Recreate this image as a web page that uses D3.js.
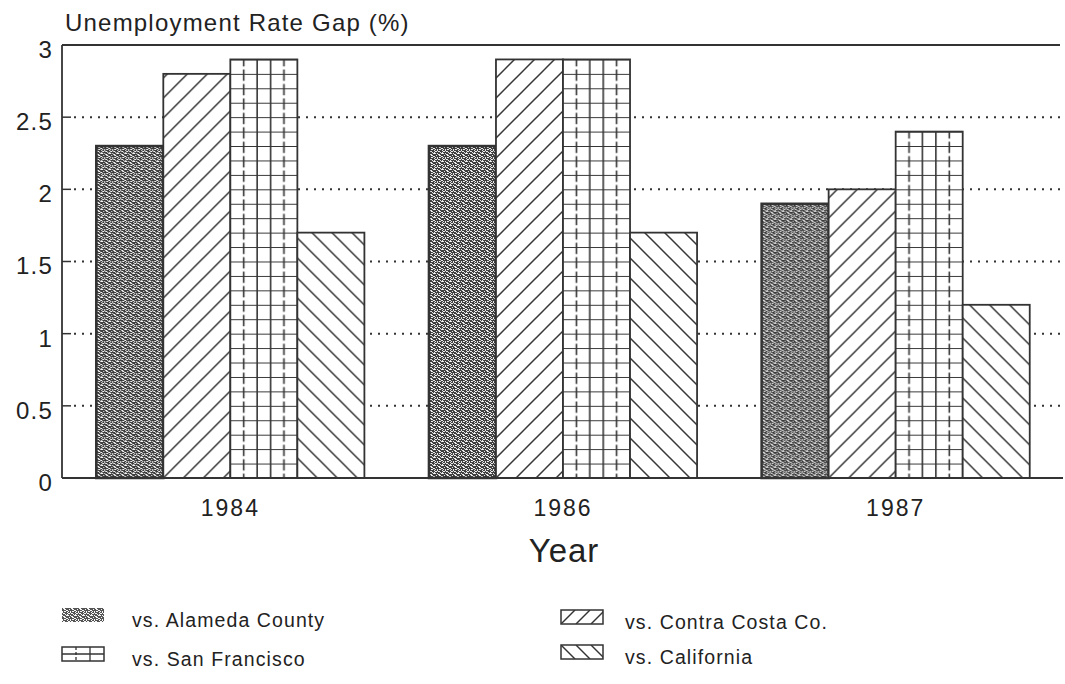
<!DOCTYPE html>
<html><head><meta charset="utf-8">
<script src="https://cdn.jsdelivr.net/npm/d3@7/dist/d3.min.js"></script>
<style>body{margin:0;background:#fff;}svg{display:block;font-family:"Liberation Sans",Arial,sans-serif;}</style>
</head><body>
<svg id="c" width="1065" height="684"></svg>
<script>
const years = ["1984", "1986", "1987"];
const seriesNames = ["vs. Alameda County", "vs. Contra Costa Co.", "vs. San Francisco", "vs. California"];
const seriesKeys = ["alameda", "contra", "sf", "calif"];
const alameda = [2.3, 2.3, 1.9];
const contraCosta = [2.8, 2.9, 2.0];
const sanFrancisco = [2.9, 2.9, 2.4];
const california = [1.7, 1.7, 1.2];
const yTicks = [0, 0.5, 1, 1.5, 2, 2.5, 3];
const yTickLabels = ["0", "0.5", "1", "1.5", "2", "2.5", "3"];
const yTitle = "Unemployment Rate Gap (%)";
const xTitle = "Year";

const values = [alameda, contraCosta, sanFrancisco, california];
const ink = "#333";
const txt = "#222";
const svg = d3.select("#c");
const defs = svg.append("defs");
const L = 62, R = 1063, T = 45, B = 478;

const x = d3.scaleBand().domain(years).range([63, 1063]).paddingInner(0.194).paddingOuter(0.1);
const xs = d3.scaleBand().domain(seriesKeys).range([0, x.bandwidth()]).padding(0);
const y = d3.scaleLinear().domain([0, 3]).range([B, T]);

function texturePattern(id, ox, oy, dark) {
  const p = defs.append("pattern").attr("id", id).attr("patternUnits", "userSpaceOnUse")
    .attr("width", 8).attr("height", 8).attr("patternTransform", `translate(${ox},${oy})`);
  p.append("rect").attr("width", 8).attr("height", 8).attr("fill", dark);
  const bits = [[1,0,2,1],[3,1,1,1],[4,2,2,1],[6,3,1,1],[0,3,1,2],[1,5,2,1],[3,6,1,1],[4,7,3,1],[6,5,2,1],[2,3,2,1],[7,1,1,1],[5,4,1,1],[0,7,1,1],[2,1,1,1],[5,6,1,1]];
  bits.forEach(b => p.append("rect").attr("x", b[0]).attr("y", b[1]).attr("width", b[2]).attr("height", b[3]).attr("fill", "#f6f6f6"));
}
function hatchPattern(id, ox, oy, dir) {
  const s = 20;
  const p = defs.append("pattern").attr("id", id).attr("patternUnits", "userSpaceOnUse")
    .attr("width", s).attr("height", s).attr("patternTransform", `translate(${ox},${oy})`);
  p.append("rect").attr("width", s).attr("height", s).attr("fill", "#fff");
  const segs = dir > 0
    ? [[-s, s, s, -s], [0, s, s, 0], [0, 2 * s, 2 * s, 0]]
    : [[0, 0, s, s], [-s, 0, s, 2 * s], [0, -s, 2 * s, s]];
  segs.forEach(g => p.append("line").attr("x1", g[0]).attr("y1", g[1]).attr("x2", g[2]).attr("y2", g[3])
    .attr("stroke", ink).attr("stroke-width", 1.5));
}
function gridPattern(id, ox, oy, w) {
  const cw = w / 5, ch = (y(0) - y(0.1));
  const p = defs.append("pattern").attr("id", id).attr("patternUnits", "userSpaceOnUse")
    .attr("width", w).attr("height", ch).attr("patternTransform", `translate(${ox},${oy})`);
  p.append("rect").attr("width", w).attr("height", ch).attr("fill", "#fff");
  p.append("line").attr("x1", 0).attr("x2", w).attr("y1", 0).attr("y2", 0).attr("stroke", ink).attr("stroke-width", 2);
  for (let i = 1; i < 5; i++) {
    const dashed = (i === 1 || i === 4);
    p.append("line").attr("x1", i * cw).attr("x2", i * cw).attr("y1", 0).attr("y2", ch)
      .attr("stroke", ink).attr("stroke-width", 1.6)
      .attr("stroke-dasharray", dashed ? "7,3" : null);
  }
}

// gridlines & inward ticks
const g = svg.append("g");
yTicks.filter(v => v > 0 && v < 3).forEach(v => {
  g.append("line").attr("x1", L + 12).attr("x2", R).attr("y1", y(v)).attr("y2", y(v))
    .attr("stroke", ink).attr("stroke-width", 2).attr("stroke-dasharray", "2,6");
  g.append("line").attr("x1", L).attr("x2", L + 9).attr("y1", y(v)).attr("y2", y(v))
    .attr("stroke", ink).attr("stroke-width", 1.5);
});

// bars
years.forEach((yr, gi) => {
  seriesKeys.forEach((k, si) => {
    const v = values[si][gi];
    const bx = x(yr) + xs(k), bw = xs.bandwidth(), by = y(v), bh = y(0) - y(v);
    const id = `p_${k}_${gi}`;
    if (k === "alameda") texturePattern(id, bx, by, "#3a3a3a");
    else if (k === "contra") hatchPattern(id, bx, B, 1);
    else if (k === "sf") gridPattern(id, bx, B, bw);
    else hatchPattern(id, bx, B, -1);
    svg.append("rect").attr("x", bx).attr("y", by).attr("width", bw).attr("height", bh)
      .attr("fill", `url(#${id})`).attr("stroke", ink)
      .attr("stroke-width", k === "alameda" ? 2.5 : 1.8);
  });
});

// frame
svg.append("line").attr("x1", L).attr("x2", L).attr("y1", T).attr("y2", B).attr("stroke", ink).attr("stroke-width", 1.8);
svg.append("line").attr("x1", L).attr("x2", R).attr("y1", B).attr("y2", B).attr("stroke", ink).attr("stroke-width", 1.8);
svg.append("line").attr("x1", L).attr("x2", R - 3).attr("y1", T).attr("y2", T).attr("stroke", ink).attr("stroke-width", 1.8);

// y tick labels
const yAxis = d3.axisLeft(y).tickValues(yTicks).tickFormat((d, i) => yTickLabels[i]).tickSize(0).tickPadding(9);
const ya = svg.append("g").attr("transform", `translate(${L},0)`).call(yAxis);
ya.select(".domain").remove();
ya.selectAll("text").attr("font-size", 24).attr("fill", txt).attr("font-family", "Liberation Sans, Arial, sans-serif")
  .attr("letter-spacing", "1.2px").attr("dy", "0.52em");

// x labels
const xAxis = d3.axisBottom(x).tickSize(0).tickPadding(22);
const xa = svg.append("g").attr("transform", `translate(0,${B})`).call(xAxis);
xa.select(".domain").remove();
xa.selectAll("text").attr("font-size", 23).attr("fill", txt).attr("font-family", "Liberation Sans, Arial, sans-serif").attr("letter-spacing", "2px");

svg.append("text").attr("x", 65).attr("y", 31).attr("font-size", 24).attr("letter-spacing", "1.2px").attr("fill", txt).text(yTitle);
svg.append("text").attr("x", 564).attr("y", 562).attr("text-anchor", "middle").attr("font-size", 33).attr("letter-spacing", "1px").attr("fill", txt).text(xTitle);

// legend
const legPos = [[62, 608], [561, 610], [62, 647], [561, 645]];
seriesKeys.forEach((k, si) => {
  const [lx, ly] = legPos[si];
  const sw = 42, sh = 14;
  const id = `leg_${k}`;
  if (k === "alameda") {
    texturePattern(id, lx, ly, "#555");
    svg.append("rect").attr("x", lx).attr("y", ly).attr("width", sw).attr("height", sh).attr("fill", `url(#${id})`);
  } else if (k === "sf") {
    const gg = svg.append("g");
    gg.append("rect").attr("x", lx).attr("y", ly).attr("width", sw).attr("height", sh).attr("fill", "#fff").attr("stroke", ink).attr("stroke-width", 1.5);
    gg.append("line").attr("x1", lx).attr("x2", lx + sw).attr("y1", ly + sh / 2).attr("y2", ly + sh / 2).attr("stroke", ink).attr("stroke-width", 1.3);
    [1, 2].forEach(j => gg.append("line").attr("x1", lx + j * sw / 3).attr("x2", lx + j * sw / 3).attr("y1", ly).attr("y2", ly + sh)
      .attr("stroke", ink).attr("stroke-width", 1.3).attr("stroke-dasharray", j === 1 ? "3,2" : null));
  } else {
    const gg = svg.append("g");
    gg.append("rect").attr("x", lx).attr("y", ly).attr("width", sw).attr("height", sh).attr("fill", "#fff").attr("stroke", ink).attr("stroke-width", 1.5);
    const cp = `clip_${k}`;
    defs.append("clipPath").attr("id", cp).append("rect").attr("x", lx).attr("y", ly).attr("width", sw).attr("height", sh);
    const lg = gg.append("g").attr("clip-path", `url(#${cp})`);
    for (let j = -1; j < 4; j++) {
      const x0 = lx + j * 15;
      if (k === "contra") lg.append("line").attr("x1", x0).attr("y1", ly + sh).attr("x2", x0 + sh).attr("y2", ly).attr("stroke", ink).attr("stroke-width", 1.4);
      else lg.append("line").attr("x1", x0).attr("y1", ly).attr("x2", x0 + sh).attr("y2", ly + sh).attr("stroke", ink).attr("stroke-width", 1.4);
    }
  }
  svg.append("text").attr("x", lx + (si % 2 === 0 ? 70 : 64)).attr("y", ly + 19).attr("font-size", 19.5).attr("fill", txt)
    .attr("letter-spacing", "1.1px").text(seriesNames[si]);
});
</script>
</body></html>
